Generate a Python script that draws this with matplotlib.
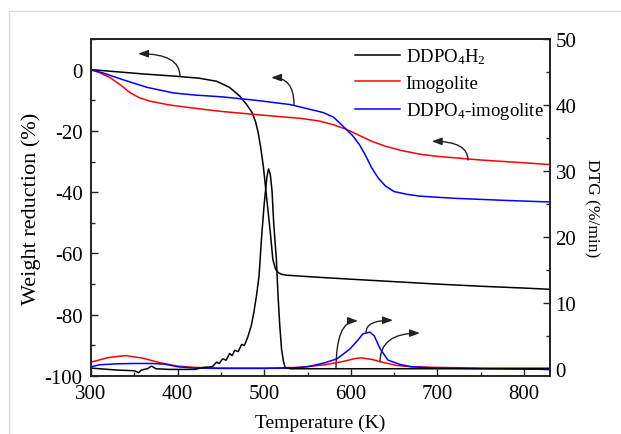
import numpy as np
import matplotlib
matplotlib.use("Agg")
import matplotlib.pyplot as plt
from matplotlib.patches import Rectangle
from matplotlib.ticker import MultipleLocator

plt.rcParams['font.family'] = ['Liberation Serif', 'DejaVu Serif']
plt.rcParams['mathtext.fontset'] = 'custom'
plt.rcParams['mathtext.rm'] = 'Liberation Serif'
plt.rcParams['mathtext.it'] = 'Liberation Serif:italic'
plt.rcParams['axes.unicode_minus'] = False

# ---- TG curves (weight reduction, %) ----
t_ddpo = [300, 330, 360, 400, 425, 445, 460, 472, 480, 486, 490, 493, 496, 499,
          503, 507, 510, 513, 516, 520, 526, 564, 600, 650, 700, 750, 800, 830]
w_ddpo = [0, -0.7, -1.4, -2.2, -2.8, -3.8, -5.8, -8.7, -11.5, -14, -17, -20.5, -25.5, -31.6,
          -42.3, -53, -62, -65, -66.2, -66.8, -67.1, -67.8, -68.4, -69.2, -70, -70.7, -71.3, -71.7]

t_imo = [300, 310, 322, 335, 345, 356, 368, 390, 414, 449, 492, 545, 564, 580, 595,
         610, 625, 640, 660, 680, 700, 750, 800, 830]
w_imo = [0, -1.0, -2.6, -5.2, -7.5, -9.2, -10.3, -11.5, -12.4, -13.6, -14.7, -16.0, -16.8,
         -18.0, -19.5, -21.5, -23.5, -25.0, -26.5, -27.6, -28.3, -29.5, -30.4, -31.0]

t_hyb = [300, 315, 337, 365, 395, 420, 452, 490, 530, 568, 580, 593, 602, 610, 617,
         624, 632, 640, 650, 665, 680, 720, 780, 830]
w_hyb = [0, -1.2, -3.3, -5.8, -7.6, -8.3, -8.9, -10.0, -11.4, -14.0, -15.5, -19.0, -21.5,
         -24.5, -28.0, -32.0, -35.5, -38.0, -39.8, -40.7, -41.3, -42.0, -42.7, -43.2]

# ---- DTG curves (%/min) ----
td_ddpo = [300, 330, 350, 355, 358, 365, 370, 375, 390, 420, 430, 440, 445, 448, 452, 456,
           460, 463, 466, 470, 474, 477, 481, 485, 488, 491, 494, 497, 500, 503, 505, 507,
           509, 511, 514, 516, 518, 520, 522, 524, 530, 600, 700, 830]
d_ddpo = [0.1, -0.2, -0.3, -0.6, -0.2, 0, 0.4, 0, -0.1, -0.1, 0.2, 0.3, 1.0, 0.8, 1.5, 1.3,
          2.3, 2.0, 2.8, 2.6, 3.7, 3.5, 4.8, 6.5, 8.5, 11, 14, 20, 25, 29, 30.3, 29.5,
          27, 22, 16.7, 11, 6.5, 3, 1.3, 0.2, 0, 0, 0, 0]

td_imo = [300, 320, 340, 360, 380, 400, 420, 450, 500, 540, 570, 591, 605, 612, 625, 634,
          653, 670, 700, 750, 830]
d_imo = [1.0, 1.7, 2.0, 1.6, 0.9, 0.4, 0.2, 0.1, 0.1, 0.2, 0.6, 1.1, 1.55, 1.65, 1.4, 1.06,
         0.5, 0.3, 0.2, 0.1, 0.1]

td_hyb = [300, 310, 330, 350, 370, 385, 400, 420, 450, 500, 530, 550, 570, 584, 599, 608,
          614, 622, 627, 634, 643, 657, 670, 700, 760, 830]
d_hyb = [0.3, 0.6, 0.75, 0.8, 0.8, 0.7, 0.3, 0.1, 0.05, 0.05, 0.1, 0.3, 0.9, 1.5, 3.0, 4.3,
         5.3, 5.55, 5.0, 3.0, 1.3, 0.65, 0.3, 0.1, 0.0, -0.1]

labels = [r"DDPO$_4$H$_2$", "Imogolite", r"DDPO$_4$-imogolite"]
colors = ["#000000", "#ff0000", "#0000ff"]

W, H = 621, 435
fig = plt.figure(figsize=(W / 100, H / 100), dpi=100)
fig.add_artist(Rectangle((9 / W, -0.1), 1.2, 1 - 12 / H + 0.1, transform=fig.transFigure,
                         fill=False, ec="#dcdcdc", lw=1.0))

ax = fig.add_axes([91 / W, 1 - 377 / H, (550 - 91) / W, (377 - 40) / H])
ax2 = ax.twinx()

lw = 1.1
h1, = ax.plot(t_ddpo, w_ddpo, color=colors[0], lw=lw)
h2, = ax.plot(t_imo, w_imo, color=colors[1], lw=lw)
h3, = ax.plot(t_hyb, w_hyb, color=colors[2], lw=lw)
ax2.plot(td_imo, d_imo, color=colors[1], lw=lw)
ax2.plot(td_hyb, d_hyb, color=colors[2], lw=lw)
ax2.plot(td_ddpo, d_ddpo, color=colors[0], lw=lw)

ax.set_xlim(300, 830)
ax.set_ylim(-100, 10)
ax2.set_ylim(-1.1, 50)

ax.xaxis.set_major_locator(MultipleLocator(100))
ax.xaxis.set_minor_locator(MultipleLocator(50))
ax.yaxis.set_major_locator(MultipleLocator(20))
ax.yaxis.set_minor_locator(MultipleLocator(10))
ax2.yaxis.set_major_locator(MultipleLocator(10))
ax2.yaxis.set_minor_locator(MultipleLocator(5))

fs = 15
for a in (ax, ax2):
    a.tick_params(which='both', direction='in', labelsize=fs, width=1.0, color='#222222')
    a.tick_params(which='major', length=5)
    a.tick_params(which='minor', length=3)
    for s in a.spines.values():
        s.set_linewidth(1.2)
        s.set_color('#222222')
ax.tick_params(axis='y', which='both', right=False, pad=6)
ax.tick_params(axis='x', which='both', top=False, pad=5.5)
ax2.tick_params(axis='y', pad=4)

ax.set_xlabel("Temperature (K)", fontsize=14, labelpad=8)
ax.set_ylabel("Weight reduction (%)", fontsize=16, labelpad=3)
ax2.set_ylabel("DTG (%/min)", fontsize=12.5, rotation=270, labelpad=17)

ax.legend([h1, h2, h3], labels, loc='upper left', bbox_to_anchor=(0.575, 0.978),
          frameon=False, fontsize=13.5, handlelength=2.4, handletextpad=0.3,
          labelspacing=0.45, borderpad=0, borderaxespad=0)

# curved arrows pointing each curve to its axis
arrows = [((402.8, -2.2), (354.3, 5.2)),
          ((534.4, -11.4), (507.9, -2.6)),
          ((735.3, -29.5), (693.4, -23.4)),
          ((582.9, -97.7), (608.3, -82.0)),
          ((617.6, -85.7), (648.7, -81.8)),
          ((633.7, -95.4), (679.9, -86.0))]
for tail, head in arrows:
    ax.annotate("", xy=head, xytext=tail,
                arrowprops=dict(arrowstyle="-|>,head_length=0.6,head_width=0.22",
                                connectionstyle="angle3,angleA=90,angleB=0",
                                color="#222222", lw=1.0, shrinkA=0, shrinkB=0))

fig.savefig("out.png", dpi=100)
